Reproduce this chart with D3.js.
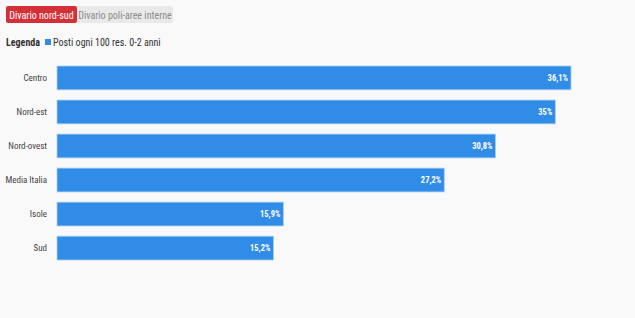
<!DOCTYPE html>
<html>
<head>
<meta charset="utf-8">
<script src="https://cdn.jsdelivr.net/npm/d3@7"></script>
<style>
  body { margin: 0; background: #f9f9f9; }
  svg text { font-family: "Roboto Condensed", "Liberation Sans Narrow", Roboto, sans-serif; }
</style>
</head>
<body>
<script>
// dati
var categories = ["Centro", "Nord-est", "Nord-ovest", "Media Italia", "Isole", "Sud"];
var values = [36.1, 35, 30.8, 27.2, 15.9, 15.2];
var valueLabels = ["36,1%", "35%", "30,8%", "27,2%", "15,9%", "15,2%"];
var seriesName = "Posti ogni 100 res. 0-2 anni";
var tabs = ["Divario nord-sud", "Divario poli-aree interne"];

var width = 635, height = 318;
var margin = {top: 66, right: 64, bottom: 58, left: 57};

var svg = d3.select("body").append("svg")
    .attr("width", width)
    .attr("height", height);

svg.append("rect").attr("width", width).attr("height", height).attr("fill", "#f9f9f9");

// tabs
var tabX = [6, 77], tabW = [71, 96];
tabs.forEach(function(t, i){
  svg.append("rect")
     .attr("x", tabX[i]).attr("y", 6)
     .attr("width", tabW[i]).attr("height", 17)
     .attr("rx", 2)
     .attr("fill", i == 0 ? "#d33037" : "#e9e9e9");
  svg.append("text")
     .attr("x", tabX[i] + tabW[i]/2).attr("y", 18.5)
     .attr("text-anchor", "middle")
     .attr("font-size", 10)
     .attr("fill", i == 0 ? "#ffffff" : "#8a8a8a")
     .text(t);
});

// legenda
svg.append("text")
   .attr("x", 6).attr("y", 46)
   .attr("font-size", 10).attr("font-weight", "bold")
   .attr("fill", "#333")
   .text("Legenda");
svg.append("rect")
   .attr("x", 45).attr("y", 39).attr("width", 6).attr("height", 6)
   .attr("fill", "#318ce7");
svg.append("text")
   .attr("x", 53).attr("y", 46)
   .attr("font-size", 10).attr("fill", "#333")
   .text(seriesName);

var x = d3.scaleLinear()
    .domain([0, d3.max(values)])
    .range([margin.left, width - margin.right]);

var y = d3.scaleBand()
    .domain(categories)
    .range([margin.top, height - margin.bottom])
    .paddingInner(0.3)
    .paddingOuter(0);

var data = categories.map(function(c, i){ return {cat: c, val: values[i], lab: valueLabels[i]}; });

svg.selectAll()
   .data(data)
   .enter()
   .append("rect")
   .attr("x", x(0))
   .attr("y", function(d){ return y(d.cat); })
   .attr("width", function(d){ return x(d.val) - x(0); })
   .attr("height", y.bandwidth())
   .attr("fill", "#318ce7")
   .attr("stroke", "#a9cff5")
   .attr("stroke-width", 0.8);

svg.selectAll()
   .data(data)
   .enter()
   .append("text")
   .attr("x", function(d){ return x(d.val) - 3; })
   .attr("y", function(d){ return y(d.cat) + y.bandwidth()/2 + 3; })
   .attr("text-anchor", "end")
   .attr("font-size", 8.5)
   .attr("font-weight", "bold")
   .attr("fill", "#ffffff")
   .text(function(d){ return d.lab; });

svg.selectAll()
   .data(data)
   .enter()
   .append("text")
   .attr("x", 47)
   .attr("y", function(d){ return y(d.cat) + y.bandwidth()/2 + 3; })
   .attr("text-anchor", "end")
   .attr("font-size", 9)
   .attr("fill", "#444")
   .text(function(d){ return d.cat; });
</script>
</body>
</html>
